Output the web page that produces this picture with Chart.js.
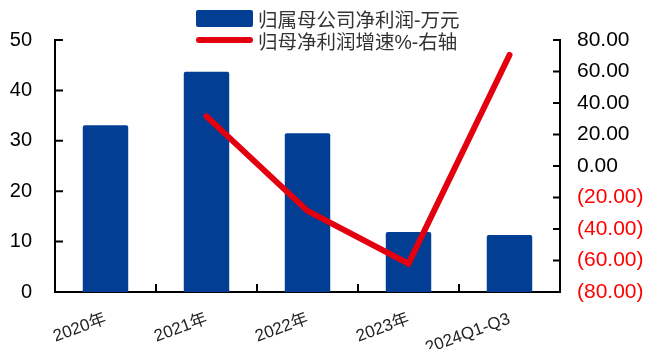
<!DOCTYPE html>
<html>
<head>
<meta charset="utf-8">
<script src="https://cdn.jsdelivr.net/npm/chart.js@4"></script>
<style>
  body { margin: 0; background: #fff; }
  #wrap { position: relative; width: 656px; height: 349px; }
  #legend { position: absolute; left: 196px; top: 7px; font: 19.5px "Liberation Sans", "Noto Sans CJK SC", sans-serif; color: #333; }
  .row { display: flex; align-items: center; height: 22px; }
  .sw { width: 57px; margin-right: 5px; }
</style>
</head>
<body>
<div id="wrap">
  <canvas id="mainChart" width="656" height="349"></canvas>
  <div id="legend">
    <div class="row"><span class="sw" style="height:17px;background:#023f94;border-radius:2px"></span>归属母公司净利润-万元</div>
    <div class="row"><span class="sw" style="height:6px;background:#e3000f;border-radius:3px"></span>归母净利润增速%-右轴</div>
  </div>
</div>
<script>
const categories = ['2020年', '2021年', '2022年', '2023年', '2024Q1-Q3'];
const profit = [33.1, 43.7, 31.5, 11.9, 11.3];
const growth = [null, 31.5, -28.5, -62, 70.5];

const BLUE = '#023f94';
const RED = '#e3000f';
const FONT = '"Liberation Sans", "Noto Sans CJK SC", sans-serif';

// ticks point inward, so draw them ourselves off the scales
const innerTicks = {
    id: 'innerTicks',
    afterDraw(chart) {
        const ctx = chart.ctx;
        const a = chart.chartArea;
        const y = chart.scales.y, y1 = chart.scales.y1, x = chart.scales.x;
        ctx.save();
        ctx.strokeStyle = '#000';
        ctx.lineWidth = 2;
        ctx.beginPath();
        y.ticks.forEach(t => {
            const p = y.getPixelForValue(t.value);
            ctx.moveTo(a.left, p); ctx.lineTo(a.left + 8, p);
        });
        y1.ticks.forEach(t => {
            const p = y1.getPixelForValue(t.value);
            ctx.moveTo(a.right - 7, p); ctx.lineTo(a.right, p);
        });
        for (let i = 0; i < categories.length - 1; i++) {
            const p = (x.getPixelForTick(i) + x.getPixelForTick(i + 1)) / 2;
            ctx.moveTo(p, a.bottom); ctx.lineTo(p, a.bottom - 8);
        }
        ctx.stroke();
        ctx.restore();
    }
};

new Chart(document.getElementById('mainChart').getContext('2d'), {
    type: 'bar',
    data: {
        labels: categories,
        datasets: [
            { type: 'line', label: '归母净利润增速%-右轴', data: growth, yAxisID: 'y1', borderColor: RED,
              borderWidth: 6, pointRadius: 0, tension: 0, order: 0, borderCapStyle: 'round' },
            { type: 'bar', label: '归属母公司净利润-万元', data: profit, yAxisID: 'y', backgroundColor: BLUE,
              barPercentage: 0.9, categoryPercentage: 0.5, borderRadius: 2, order: 1 }
        ]
    },
    options: {
        responsive: false,
        animation: false,
        layout: { padding: { top: 40, left: 0, right: 0, bottom: 0 } },
        plugins: { legend: { display: false }, tooltip: { enabled: false } },
        scales: {
            x: {
                grid: { display: false },
                border: { display: true, color: '#000', width: 2 },
                ticks: { color: '#222', font: { family: FONT, size: 17 }, minRotation: 20, maxRotation: 20, padding: 9 },
                afterFit(s) { s.height = 57; }
            },
            y: {
                position: 'left', min: 0, max: 50,
                grid: { display: false },
                border: { display: true, color: '#000', width: 2 },
                ticks: { stepSize: 10, color: '#000', padding: 15, font: { family: FONT, size: 20 } },
                afterFit(s) { s.width = 55; }
            },
            y1: {
                position: 'right', min: -80, max: 80,
                grid: { display: false },
                border: { display: true, color: '#000', width: 2 },
                ticks: {
                    stepSize: 20, padding: 9, font: { family: FONT, size: 21 },
                    color: c => c.tick.value < 0 ? '#ff0000' : '#000',
                    callback: v => v < 0 ? '(' + Math.abs(v).toFixed(2) + ')' : v.toFixed(2)
                },
                afterFit(s) { s.width = 96; }
            }
        }
    },
    plugins: [innerTicks]
});
</script>
</body>
</html>
